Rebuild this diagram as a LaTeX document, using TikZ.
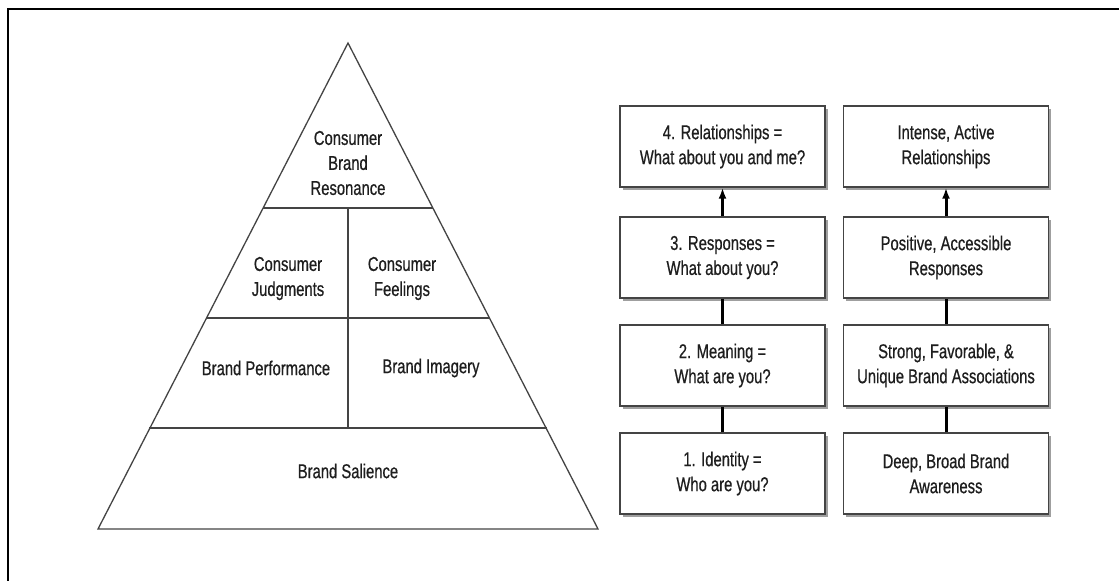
\documentclass[tikz,border=0pt]{standalone}
\usepackage{fontspec}
\setmainfont{Liberation Sans}[FakeStretch=0.74,FakeBold=0.6]
\usetikzlibrary{arrows.meta,shadows}
\definecolor{ink}{HTML}{1E1E1E}
\definecolor{edge}{HTML}{444444}
\begin{document}
\begin{tikzpicture}[x=1pt,y=-1pt,
  lbl/.style={text=ink,align=center,inner sep=0pt,font=\fontsize{20}{25}\selectfont},
  level/.style={draw=edge,line width=1.4pt,fill=white,minimum width=205pt,minimum height=81pt,
    inner sep=0pt,text=ink,align=center,font=\fontsize{20}{25}\selectfont,
    drop shadow={shadow xshift=2.5pt,shadow yshift=-2.5pt,fill=gray!75,opacity=1}},
  conn/.style={draw=black,line width=3pt},
  pyr/.style={draw=edge,line width=1.3pt,line join=miter}]
\useasboundingbox (0,0) rectangle (1119,581);
\fill[white] (0,0) rectangle (1119,581);
% frame lines
\draw[black,line width=2.2pt] (7,9) -- (1119,9);
\draw[black,line width=2.4pt] (8,9) -- (8,581);
% pyramid outline and tiers
\coordinate (apex) at (348,43);
\coordinate (bl) at (98,529);
\coordinate (br) at (598,529);
\draw[pyr] (apex) -- (br) -- (bl) -- cycle;
\draw[pyr] (263,208) -- (433,208);
\draw[pyr] (206,318) -- (490,318);
\draw[pyr] (149,428) -- (547,428);
\draw[pyr] (348,208) -- (348,428);
% pyramid labels
\node[lbl] (res) at (348,163) {Consumer\\Brand\\Resonance};
\node[lbl] (judg) at (288,278.5) {Consumer\\Judgments};
\node[lbl] (feel) at (402,278.5) {Consumer\\Feelings};
\node[lbl] (perf) at (266,368) {Brand Performance};
\node[lbl] (imag) at (431,368) {Brand Imagery};
\node[lbl] (sal) at (348,471) {Brand Salience};
% branding ladder: steps
\node[level] (l4) at (722.5,146.5) {4. Relationships =\\What about you and me?};
\node[level] (l3) at (722.5,257.5) {3. Responses =\\What about you?};
\node[level] (l2) at (722.5,365.5) {2. Meaning =\\What are you?};
\node[level] (l1) at (722.5,473.5) {1. Identity =\\Who are you?};
% branding objectives
\node[level] (r4) at (946,146.5) {Intense, Active\\Relationships};
\node[level] (r3) at (946,257.5) {Positive, Accessible\\Responses};
\node[level] (r2) at (946,365.5) {Strong, Favorable, \&\\Unique Brand Associations};
\node[level] (r1) at (946,473.5) {Deep, Broad Brand\\Awareness};
% connectors
\draw[conn] (l1) -- (l2);
\draw[conn] (l2) -- (l3);
\draw[conn,-{Latex[length=11pt,width=8pt]}] (l3) -- (l4);
\draw[conn] (r1) -- (r2);
\draw[conn] (r2) -- (r3);
\draw[conn,-{Latex[length=11pt,width=8pt]}] (r3) -- (r4);
\end{tikzpicture}
\end{document}
